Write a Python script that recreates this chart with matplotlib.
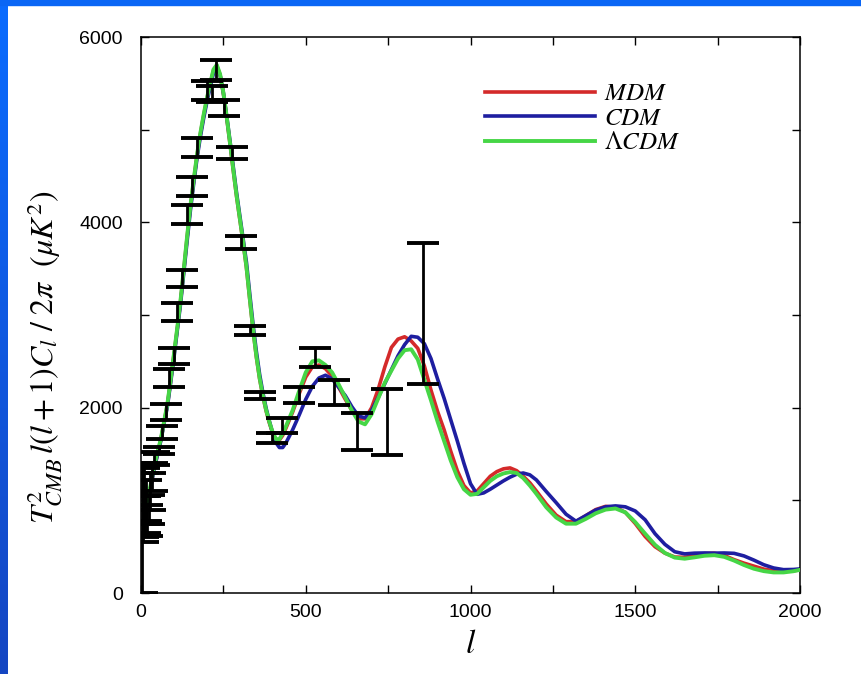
import numpy as np
import matplotlib
matplotlib.use("Agg")
import matplotlib.pyplot as plt
from matplotlib.ticker import MultipleLocator
from matplotlib.patches import Rectangle
from matplotlib.colors import LinearSegmentedColormap

plt.rcParams['mathtext.fontset'] = 'stix'
plt.rcParams['font.family'] = ['Liberation Sans', 'DejaVu Sans']

# multipole grid shared by the three model spectra
ell = [2, 10, 20, 30, 40, 50, 60, 70, 80, 90, 100, 110, 120, 130, 140, 150, 160, 170,
       180, 190, 200, 210, 220, 230, 240, 250, 260, 270, 280, 290, 300, 310, 320, 330,
       340, 350, 360, 370, 380, 390, 400, 410, 420, 430, 440, 460, 480, 500, 520, 540,
       560, 580, 600, 620, 640, 660, 680, 700, 720, 740, 760, 780, 800, 820, 840, 860,
       880, 900, 920, 940, 960, 980, 1000, 1020, 1040, 1060, 1080, 1100, 1120, 1140,
       1160, 1180, 1200, 1230, 1260, 1290, 1320, 1350, 1380, 1410, 1440, 1470, 1500,
       1530, 1560, 1590, 1620, 1650, 1680, 1710, 1740, 1770, 1800, 1830, 1860, 1890,
       1920, 1950, 1980, 2000]

# mixed dark matter
mdm = [900, 900, 980, 1160, 1350, 1500, 1650, 1840, 2030, 2290, 2570, 2850, 3150, 3490,
       3840, 4170, 4450, 4720, 4950, 5150, 5330, 5490, 5640, 5690, 5590, 5390, 5130,
       4850, 4560, 4280, 4030, 3780, 3510, 3170, 2840, 2550, 2310, 2120, 1960, 1830,
       1720, 1650, 1650, 1700, 1780, 1950, 2150, 2330, 2440, 2460, 2420, 2340, 2220,
       2090, 1970, 1880, 1880, 2000, 2200, 2440, 2650, 2740, 2765, 2720, 2640, 2450,
       2190, 1960, 1760, 1530, 1320, 1160, 1080, 1100, 1180, 1260, 1310, 1340, 1350,
       1320, 1260, 1190, 1100, 960, 840, 770, 770, 835, 900, 935, 925, 870, 750, 610,
       500, 430, 388, 385, 405, 425, 430, 405, 360, 322, 290, 258, 240, 235, 240, 250]

# cold dark matter
cdm = [900, 900, 980, 1150, 1340, 1490, 1640, 1830, 2010, 2270, 2540, 2830, 3120, 3460,
       3800, 4130, 4420, 4690, 4920, 5120, 5300, 5460, 5610, 5670, 5590, 5400, 5150,
       4880, 4600, 4320, 4070, 3820, 3570, 3230, 2900, 2610, 2360, 2160, 1990, 1850,
       1720, 1620, 1570, 1570, 1620, 1760, 1920, 2090, 2230, 2320, 2350, 2310, 2220,
       2130, 2010, 1910, 1890, 1970, 2110, 2260, 2410, 2560, 2680, 2770, 2760, 2690,
       2530, 2310, 2100, 1870, 1640, 1400, 1180, 1065, 1080, 1120, 1165, 1210, 1250,
       1282, 1295, 1275, 1220, 1095, 975, 850, 775, 835, 895, 930, 940, 930, 885, 790,
       640, 525, 445, 422, 430, 432, 430, 432, 428, 400, 355, 305, 270, 252, 254, 260]

# cosmological-constant model
lcdm = [950, 930, 1000, 1180, 1370, 1520, 1660, 1850, 2040, 2300, 2580, 2860, 3160, 3500,
        3850, 4180, 4460, 4730, 4960, 5160, 5340, 5500, 5650, 5700, 5600, 5400, 5140,
        4860, 4570, 4290, 4040, 3790, 3520, 3180, 2850, 2560, 2320, 2130, 1970, 1840,
        1730, 1660, 1660, 1720, 1800, 1970, 2180, 2380, 2500, 2510, 2460, 2380, 2250,
        2110, 1970, 1850, 1820, 1930, 2100, 2270, 2400, 2530, 2620, 2630, 2520, 2300,
        2080, 1850, 1640, 1430, 1250, 1120, 1060, 1070, 1140, 1210, 1260, 1290, 1305,
        1295, 1240, 1160, 1070, 925, 815, 748, 748, 800, 860, 900, 912, 870, 765, 640,
        520, 432, 382, 370, 385, 402, 408, 390, 350, 302, 262, 236, 222, 222, 235, 250]

# band-power measurements with 1-sigma errors
bar_l = [3, 5, 7, 9, 12, 15, 19, 23, 28, 33, 40, 55, 64, 76, 85, 100, 109, 124, 140,
         155, 170, 200, 215, 228, 252, 276, 304, 331, 361, 398, 428, 480, 528, 586,
         656, 747, 856]
bar_val = [700, 950, 800, 1050, 850, 1000, 780, 900, 1100, 1250, 1450, 1537, 1732, 1953,
           2320, 2557, 3032, 3393, 4085, 4387, 4807, 5422, 5385, 5643, 5234, 4748, 3782,
           2832, 2131, 1673, 1810, 2137, 2541, 2164, 1743, 1845, 3016]
bar_err = [700, 350, 250, 300, 200, 220, 170, 160, 200, 150, 70, 40, 70, 87, 97, 87, 97,
           92, 103, 103, 103, 103, 90, 108, 87, 65, 70, 48, 38, 55, 80, 87, 103, 135,
           200, 356, 760]

fig = plt.figure(figsize=(8.61, 6.74), dpi=100)
fig.patch.set_facecolor('white')

# slide border: gradient strip on the left, flat strip on top
strip = fig.add_axes([0, 0, 7 / 861, 1])
grad = np.linspace(0, 1, 256).reshape(-1, 1)
cmap = LinearSegmentedColormap.from_list('edge', ['#0a6cff', '#1546c2'])
strip.imshow(grad, aspect='auto', cmap=cmap, extent=[0, 1, 0, 1], origin='upper')
strip.set_axis_off()
fig.patches.append(Rectangle((0, 1 - 5 / 674), 1, 5 / 674, transform=fig.transFigure,
                             color='#0a66f5', zorder=0))

ax = fig.add_axes([141 / 861, 1 - 593 / 674, 659 / 861, 556 / 674])
ax.plot(ell, mdm, color='#d42a2a', lw=2.6, label='$MDM$', zorder=2)
ax.plot(ell, lcdm, color='#46d646', lw=2.8, label=r'$\Lambda CDM$', zorder=3)
ax.plot(ell, cdm, color='#1e1ea0', lw=2.6, label='$CDM$', zorder=2.5)
ax.errorbar(bar_l, bar_val, yerr=bar_err, fmt='none', ecolor='black', elinewidth=2.0,
            capsize=11.5, capthick=2.8, zorder=5)

ax.set_xlim(0, 2000)
ax.set_ylim(0, 6000)
ax.xaxis.set_major_locator(MultipleLocator(500))
ax.xaxis.set_minor_locator(MultipleLocator(250))
ax.yaxis.set_major_locator(MultipleLocator(2000))
ax.yaxis.set_minor_locator(MultipleLocator(1000))
ax.tick_params(which='both', direction='in', top=True, right=True, width=1.0,
               labelsize=14, colors='black')
ax.tick_params(which='major', length=6)
ax.tick_params(which='minor', length=6)
ax.tick_params(axis='y', pad=13)
ax.tick_params(axis='x', pad=8)
for s in ax.spines.values():
    s.set_linewidth(1.1)

ax.set_xlabel('$l$', fontsize=24, labelpad=6)
ax.set_ylabel(r'$T^2_{CMB}\,l(l+1)C_l\ /\ 2\pi\ \ (\mu K^2)$', fontsize=23)
ax.yaxis.set_label_coords(-0.146, 0.424)
ax.yaxis.label.set_verticalalignment('center')

handles, labels = ax.get_legend_handles_labels()
order = [0, 2, 1]
ax.legend([handles[i] for i in order], [labels[i] for i in order],
          loc='upper left', bbox_to_anchor=(0.522, 0.92), frameon=False,
          fontsize=18, handlelength=4.4, handletextpad=0.35, labelspacing=0.02,
          borderpad=0, borderaxespad=0)

fig.savefig('out.png', dpi=100, facecolor='white')
